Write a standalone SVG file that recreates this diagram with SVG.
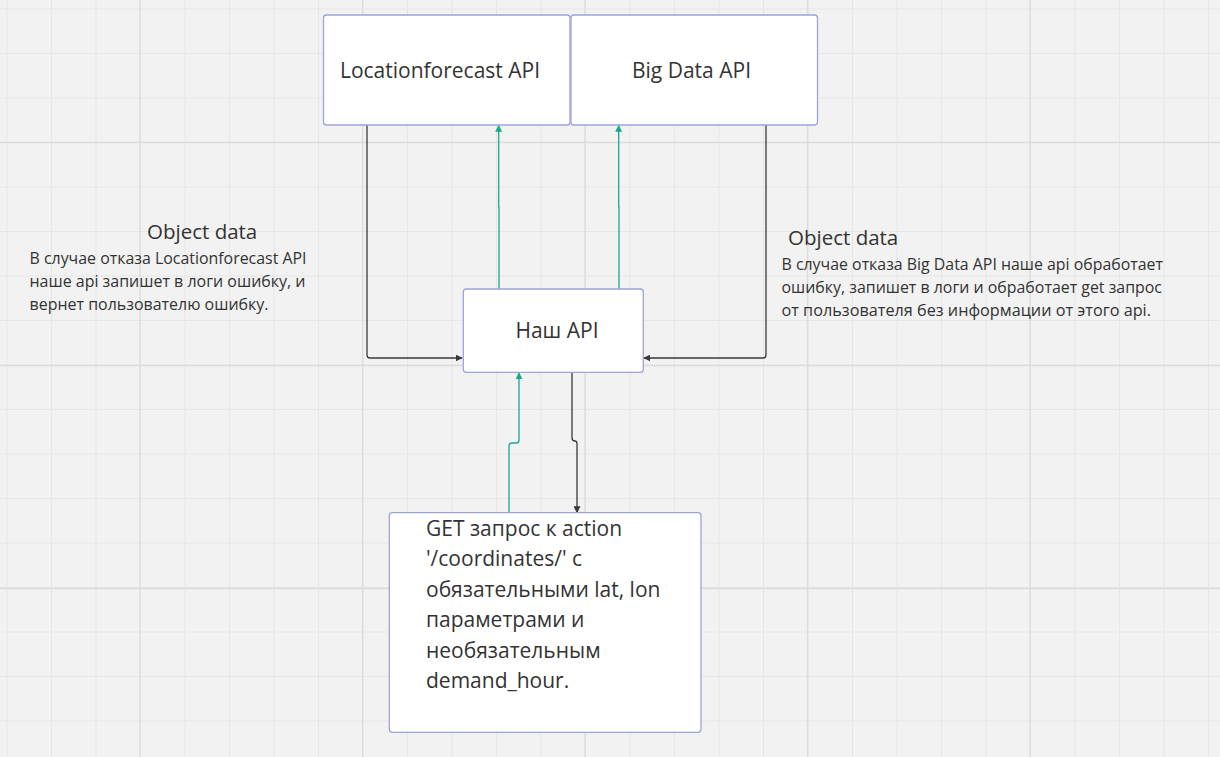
<svg xmlns="http://www.w3.org/2000/svg" width="1220" height="757" viewBox="0 0 1220 757">
<defs>
<style>
.node{fill:#ffffff;stroke:#9ea3dc;stroke-width:1.3}
.t{font-family:"Open Sans","Liberation Sans",sans-serif;fill:#333333}
.lbl{font-size:21px}
.hd{font-size:20.5px}
.bd{font-size:15.8px}
.big{font-size:21px}
.blk{fill:none;stroke:#3a3a3a;stroke-width:1.3}
.grn{fill:none;stroke:#17a98c;stroke-width:1.3}
.minor{stroke:#e6e6e6;stroke-width:1}
.major{stroke:#dcdcdc;stroke-width:1.3}
</style>
<marker id="ab" viewBox="0 0 10 10" refX="9" refY="5" markerWidth="7" markerHeight="7" orient="auto" markerUnits="userSpaceOnUse"><path d="M0,0 L10,5 L0,10 z" fill="#3a3a3a"/></marker>
<marker id="ag" viewBox="0 0 10 10" refX="9" refY="5" markerWidth="7" markerHeight="7" orient="auto" markerUnits="userSpaceOnUse"><path d="M0,0 L10,5 L0,10 z" fill="#17a98c"/></marker>
<pattern id="grid" x="6.5" y="8.5" width="44.5" height="44.5" patternUnits="userSpaceOnUse"><path d="M0.5,0 V44.5 M0,0.5 H44.5" class="minor"/></pattern>
</defs>
<rect width="1220" height="757" fill="#f2f2f2"/>
<rect width="1220" height="757" fill="url(#grid)"/>
<g id="grid-major">
<path class="major" d="M140,0 V757 M362.5,0 V757 M585,0 V757 M807.5,0 V757 M1030,0 V757 M0,142.5 H1220 M0,365.5 H1220 M0,588.5 H1220"/>
</g>
<g id="connectors">
<path class="blk" d="M367,125 V355 Q367,358 370,358 H462" marker-end="url(#ab)"/>
<path class="blk" d="M766,125 V355 Q766,358 763,358 H644" marker-end="url(#ab)"/>
<path class="grn" d="M499,289 V207 H498.7 V125.5" marker-end="url(#ag)"/>
<path class="grn" d="M619,289 V207 H618.7 V125.5" marker-end="url(#ag)"/>
<path class="grn" d="M509,513 V446 Q509,443 512,443 H516 Q519,443 519,440 V373" marker-end="url(#ag)"/>
<path class="blk" d="M572,372.5 V438 Q572,441 575,441 Q577,441 577,444 V512.5" marker-end="url(#ab)"/>
</g>
<g id="node-locationforecast">
<rect class="node" x="323.5" y="15" width="246.5" height="110" rx="3"/>
<text class="t lbl" x="440" y="78" text-anchor="middle">Locationforecast API</text>
</g>
<g id="node-bigdata">
<rect class="node" x="571" y="15" width="246.5" height="110" rx="3"/>
<text class="t lbl" x="691.5" y="78" text-anchor="middle">Big Data API</text>
</g>
<g id="node-nashapi">
<rect class="node" x="463.3" y="289" width="180" height="83.3" rx="3"/>
<text class="t lbl" x="557" y="338" text-anchor="middle">Наш API</text>
</g>
<g id="node-get">
<rect class="node" x="389.3" y="512.7" width="311.7" height="219.6" rx="3"/>
<text class="t big" x="426">
<tspan x="426" y="535.5">GET запрос к action</tspan>
<tspan x="426" y="566">'/coordinates/' с</tspan>
<tspan x="426" y="596.5">обязательными lat, lon</tspan>
<tspan x="426" y="627">параметрами и</tspan>
<tspan x="426" y="657.5">необязательным</tspan>
<tspan x="426" y="688">demand_hour.</tspan>
</text>
</g>
<g id="note-left">
<text class="t hd" x="147" y="239">Object data</text>
<text class="t bd" x="29.5" y="264" textLength="277" lengthAdjust="spacingAndGlyphs">В случае отказа Locationforecast API</text>
<text class="t bd" x="29.5" y="287" textLength="276" lengthAdjust="spacingAndGlyphs">наше api запишет в логи ошибку, и</text>
<text class="t bd" x="29.5" y="310" textLength="239" lengthAdjust="spacingAndGlyphs">вернет пользователю ошибку.</text>
</g>
<g id="note-right">
<text class="t hd" x="788" y="245">Object data</text>
<text class="t bd" x="781.5" y="270" textLength="381.5" lengthAdjust="spacingAndGlyphs">В случае отказа Big Data API наше api обработает</text>
<text class="t bd" x="781.5" y="293" textLength="380.5" lengthAdjust="spacingAndGlyphs">ошибку, запишет в логи и обработает get запрос</text>
<text class="t bd" x="781.5" y="316" textLength="369.5" lengthAdjust="spacingAndGlyphs">от пользователя без информации от этого api.</text>
</g>
</svg>
